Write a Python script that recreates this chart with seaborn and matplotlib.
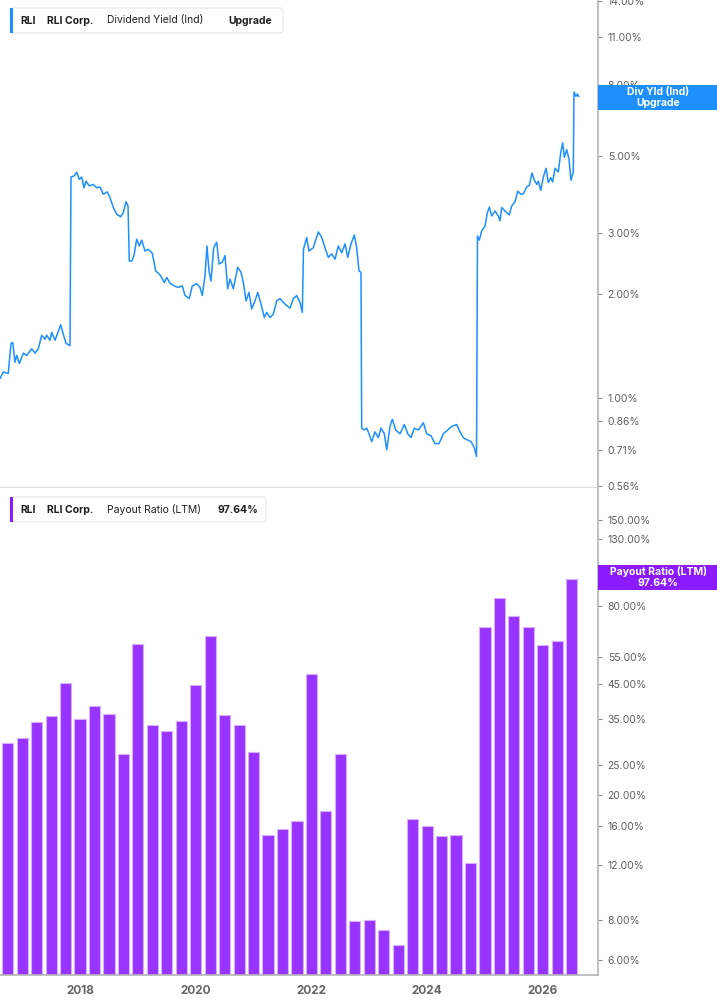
import matplotlib
matplotlib.use("Agg")
import matplotlib.pyplot as plt
from matplotlib.patches import FancyBboxPatch, Rectangle
from matplotlib.ticker import FixedLocator, NullLocator, FuncFormatter
import seaborn as sns
import pandas as pd

# dividend yield (Ind), % (decimal years)
yield_years = [
    2016.617, 2016.674, 2016.760, 2016.807, 2016.837, 2016.876, 2016.906, 2016.951, 2017.020, 2017.079,
    2017.165, 2017.222, 2017.279, 2017.338, 2017.395, 2017.424, 2017.481, 2017.511, 2017.568, 2017.625,
    2017.666, 2017.711, 2017.758, 2017.827, 2017.844, 2017.896, 2017.943, 2017.988, 2018.029, 2018.069,
    2018.104, 2018.161, 2018.230, 2018.289, 2018.346, 2018.403, 2018.472, 2018.519, 2018.576, 2018.634,
    2018.703, 2018.748, 2018.795, 2018.830, 2018.852, 2018.894, 2018.933, 2018.980, 2019.025, 2019.067,
    2019.124, 2019.181, 2019.250, 2019.309, 2019.383, 2019.457, 2019.499, 2019.556, 2019.630, 2019.699,
    2019.768, 2019.815, 2019.889, 2019.941, 2020.017, 2020.074, 2020.114, 2020.161, 2020.195, 2020.230,
    2020.264, 2020.311, 2020.363, 2020.403, 2020.460, 2020.506, 2020.553, 2020.593, 2020.650, 2020.726,
    2020.783, 2020.823, 2020.870, 2020.921, 2020.968, 2021.025, 2021.072, 2021.129, 2021.186, 2021.227,
    2021.284, 2021.342, 2021.400, 2021.457, 2021.514, 2021.573, 2021.630, 2021.687, 2021.746, 2021.803,
    2021.843, 2021.863, 2021.918, 2021.958, 2022.033, 2022.119, 2022.178, 2022.235, 2022.292, 2022.351,
    2022.408, 2022.465, 2022.524, 2022.581, 2022.628, 2022.685, 2022.742, 2022.783, 2022.823, 2022.857,
    2022.869, 2022.914, 2022.956, 2022.996, 2023.042, 2023.099, 2023.156, 2023.203, 2023.260, 2023.302,
    2023.359, 2023.399, 2023.457, 2023.532, 2023.606, 2023.665, 2023.722, 2023.779, 2023.848, 2023.935,
    2023.993, 2024.067, 2024.136, 2024.206, 2024.280, 2024.356, 2024.425, 2024.512, 2024.569, 2024.626,
    2024.685, 2024.759, 2024.816, 2024.854, 2024.871, 2024.903, 2024.944, 2025.001, 2025.041, 2025.075,
    2025.117, 2025.174, 2025.231, 2025.260, 2025.290, 2025.347, 2025.421, 2025.463, 2025.520, 2025.566,
    2025.618, 2025.663, 2025.722, 2025.767, 2025.814, 2025.848, 2025.895, 2025.923, 2025.964, 2026.009,
    2026.056, 2026.095, 2026.137, 2026.171, 2026.211, 2026.268, 2026.310, 2026.344, 2026.372, 2026.413,
    2026.453, 2026.487, 2026.527, 2026.539, 2026.574, 2026.596, 2026.620,
]
yield_pct = [
    1.14, 1.19, 1.18, 1.44, 1.45, 1.27, 1.33, 1.26, 1.35, 1.33,
    1.39, 1.35, 1.39, 1.52, 1.48, 1.52, 1.47, 1.55, 1.47, 1.56,
    1.63, 1.53, 1.44, 1.42, 4.35, 4.38, 4.49, 4.28, 4.35, 4.05,
    4.23, 4.10, 4.14, 4.05, 4.07, 3.88, 3.94, 3.79, 3.55, 3.40,
    3.34, 3.43, 3.69, 3.59, 2.49, 2.49, 2.58, 2.88, 2.75, 2.86,
    2.66, 2.69, 2.62, 2.33, 2.27, 2.16, 2.23, 2.15, 2.11, 2.09,
    2.11, 1.98, 1.94, 2.11, 2.14, 2.09, 1.98, 2.26, 2.75, 2.33,
    2.18, 2.72, 2.82, 2.44, 2.47, 2.58, 2.07, 2.21, 2.07, 2.39,
    2.31, 2.16, 1.91, 2.02, 1.81, 1.91, 2.02, 1.87, 1.71, 1.77,
    1.71, 1.75, 1.91, 1.94, 1.89, 1.85, 1.82, 1.94, 1.98, 1.89,
    1.77, 2.69, 2.91, 2.66, 2.72, 3.02, 2.91, 2.72, 2.55, 2.61,
    2.52, 2.75, 2.63, 2.79, 2.55, 2.79, 2.96, 2.72, 2.33, 2.31,
    0.82, 0.81, 0.82, 0.79, 0.75, 0.80, 0.77, 0.82, 0.79, 0.71,
    0.83, 0.87, 0.81, 0.79, 0.84, 0.79, 0.77, 0.82, 0.81, 0.85,
    0.79, 0.78, 0.74, 0.74, 0.79, 0.81, 0.83, 0.84, 0.80, 0.77,
    0.76, 0.75, 0.72, 0.68, 2.94, 2.86, 3.04, 3.14, 3.43, 3.56,
    3.36, 3.47, 3.36, 3.25, 3.55, 3.47, 3.38, 3.59, 3.69, 3.96,
    3.88, 3.89, 4.07, 4.12, 4.47, 4.28, 4.14, 4.23, 3.98, 4.35,
    4.61, 4.19, 4.33, 4.21, 4.61, 4.50, 5.11, 5.46, 4.96, 5.22,
    4.89, 4.26, 4.50, 7.65, 7.43, 7.55, 7.43,
]

# payout ratio (LTM), % -- quarterly
payout_quarters = [2016.75 + 0.25 * i for i in range(40)]
payout_pct = [
    29.3, 30.3, 34.2, 35.6, 45.5, 34.9, 38.3, 36.2, 27.0, 60.5,
    33.4, 32.0, 34.4, 44.8, 64.2, 36.0, 33.4, 27.4, 14.9, 15.6,
    16.6, 48.7, 17.8, 27.0, 7.96, 8.02, 7.46, 6.68, 16.8, 16.0,
    14.8, 14.9, 12.2, 68.5, 84.7, 74.3, 68.4, 60.2, 61.7, 97.64,
]

yield_ticks = [0.56, 0.71, 0.86, 1, 2, 3, 5, 7, 8, 11, 14]
payout_ticks = [6, 8, 12, 16, 20, 25, 35, 45, 55, 80, 105, 130, 150]
year_ticks = [2018, 2020, 2022, 2024, 2026]

BLUE = "#1e8fff"
PURPLE = "#9933ff"
PURPLE_TAG = "#8c1aff"
GRAY = "#5f5f5f"

sns.set_style("white")
plt.rcParams["font.family"] = ["Inter", "DejaVu Sans"]

W, H = 717, 1005
fig = plt.figure(figsize=(W / 100, H / 100), dpi=100)


def fx(px):
    return px / W


def fy(py):
    return 1 - py / H


ax1 = fig.add_axes([0, fy(487), fx(598), 487 / H])
ax2 = fig.add_axes([0, fy(975), fx(598), 487 / H])

df_yield = pd.DataFrame({"year": yield_years, "yield": yield_pct})
df_pay = pd.DataFrame({"quarter": payout_quarters, "payout": payout_pct})

sns.lineplot(data=df_yield, x="year", y="yield", ax=ax1, color=BLUE, linewidth=1.1)
sns.barplot(data=df_pay, x="quarter", y="payout", ax=ax2, native_scale=True,
            width=0.77, color=PURPLE, saturation=1, edgecolor="#d4b0ff", linewidth=0.8)

xlim = (2016.617, 2026.954)
for ax in (ax1, ax2):
    ax.set_yscale("log")
    ax.set_xlim(*xlim)
    ax.set_xlabel("")
    ax.set_ylabel("")
    ax.yaxis.tick_right()
    ax.yaxis.set_minor_locator(NullLocator())
    ax.yaxis.set_major_formatter(FuncFormatter(lambda v, p: f"{v:.2f}%"))
    ax.tick_params(axis="y", which="major", length=3, width=0.8, color="#888888",
                   labelsize=7.5, labelcolor=GRAY, pad=4)
    for s in ("left", "top"):
        ax.spines[s].set_visible(False)
    ax.spines["right"].set_color("#b5b5b5")
    ax.spines["right"].set_linewidth(1.2)

ax1.set_ylim(0.5547, 14.1)
ax1.yaxis.set_major_locator(FixedLocator(yield_ticks))
ax1.set_xticks([])
ax1.spines["bottom"].set_color("#dddddd")
ax1.spines["bottom"].set_linewidth(1)

ax2.set_ylim(5.36, 189.5)
ax2.yaxis.set_major_locator(FixedLocator(payout_ticks))
ax2.set_xticks(year_ticks)
ax2.set_xticklabels([str(y) for y in year_ticks], fontweight="bold")
ax2.xaxis.set_minor_locator(NullLocator())
ax2.tick_params(axis="x", length=4, width=0.8, color="#888888", labelsize=8.5,
                labelcolor="#666666", pad=3)
ax2.spines["bottom"].set_color("#b5b5b5")
ax2.spines["bottom"].set_linewidth(1.2)


def legend_box(top, width, color, pieces):
    box = FancyBboxPatch((fx(10), fy(top + 25)), fx(width), 25 / H,
                         boxstyle="round,pad=0,rounding_size=0.004",
                         transform=fig.transFigure, facecolor="white",
                         edgecolor="#e6e6e6", linewidth=0.8, zorder=5)
    fig.patches.append(box)
    fig.patches.append(Rectangle((fx(10), fy(top + 25)), fx(3), 25 / H,
                                 transform=fig.transFigure, facecolor=color,
                                 edgecolor="none", zorder=6))
    for x, txt, weight in pieces:
        fig.text(fx(x), fy(top + 12.5), txt, fontsize=7.5, fontweight=weight,
                 color="#1f1f1f", va="center", ha="left", zorder=7)


legend_box(8, 273, BLUE, [(20, "RLI", "bold"), (47, "RLI Corp.", "bold"),
                          (107, "Dividend Yield (Ind)", "normal"), (228, "Upgrade", "bold")])
legend_box(497, 256, "#8c1aff", [(20, "RLI", "bold"), (47, "RLI Corp.", "bold"),
                                 (107, "Payout Ratio (LTM)", "normal"), (218, "97.64%", "bold")])


def value_tag(top, color, line1, line2):
    fig.patches.append(Rectangle((fx(598), fy(top + 25)), fx(119), 25 / H,
                                 transform=fig.transFigure, facecolor=color,
                                 edgecolor="none", zorder=8))
    fig.text(fx(658), fy(top + 6.5), line1, fontsize=7.5, fontweight="bold",
             color="white", ha="center", va="center", zorder=9)
    fig.text(fx(658), fy(top + 18), line2, fontsize=7.5, fontweight="bold",
             color="white", ha="center", va="center", zorder=9)


value_tag(85, BLUE, "Div Yld (Ind)", "Upgrade")
value_tag(565, PURPLE_TAG, "Payout Ratio (LTM)", "97.64%")

fig.savefig("out.png", dpi=100)
